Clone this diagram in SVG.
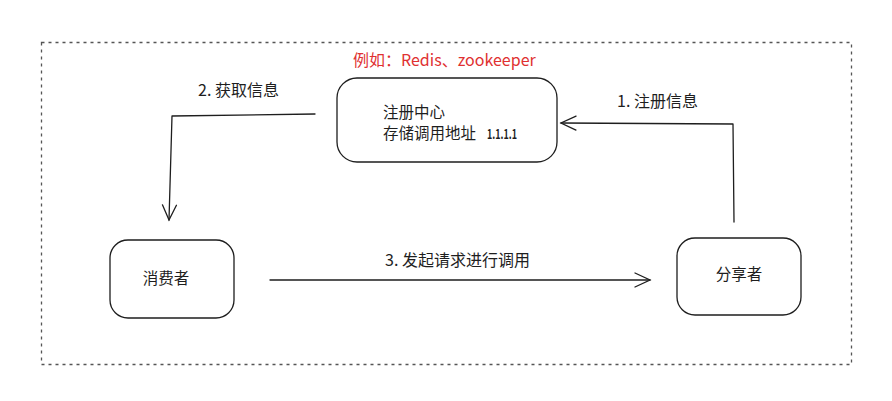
<svg xmlns="http://www.w3.org/2000/svg" width="892" height="401" viewBox="0 0 892 401">
<style>
.node{fill:none;stroke:#1e1e1e;stroke-width:1.3}
.t{font-family:"Noto Sans CJK SC","Noto Sans",sans-serif;font-size:15.5px;fill:#1e1e1e}
.l{font-family:"Noto Sans CJK SC","Noto Sans",sans-serif;font-size:16px;fill:#1e1e1e}
.c{fill:none;stroke:#1e1e1e;stroke-width:1.3;stroke-linecap:round;stroke-linejoin:round}
</style>
<defs>
<marker id="arr" markerWidth="20" markerHeight="20" refX="17" refY="10" orient="auto" markerUnits="userSpaceOnUse">
<path d="M2,3 L17,10 L2,17" fill="none" stroke="#1e1e1e" stroke-width="1.3" stroke-linecap="round"/>
</marker>
</defs>
<rect width="892" height="401" fill="#fff"/>
<rect id="frame" x="41.5" y="42.5" width="810" height="322" fill="none" stroke="#555" stroke-width="1.3" stroke-dasharray="3 4"/>
<g id="note"><text x="353" y="66" font-family="'Comic Sans MS','Noto Sans CJK SC',cursive" font-size="16" fill="#e03131">例如：Redis、zookeeper</text></g>
<g id="registry">
<rect class="node" x="337" y="78" width="220" height="84" rx="20"/>
<text class="t" x="383" y="118">注册中心</text>
<text class="t" x="383" y="139">存储调用地址<tspan x="487" font-size="13" font-weight="bold" textLength="30" lengthAdjust="spacingAndGlyphs">1.1.1.1</tspan></text>
</g>
<g id="consumer">
<rect class="node" x="110" y="240" width="124" height="78" rx="18"/>
<text class="t" x="166" y="284" text-anchor="middle">消费者</text>
</g>
<g id="sharer">
<rect class="node" x="677" y="238" width="124" height="77" rx="18"/>
<text class="t" x="739" y="280" text-anchor="middle">分享者</text>
</g>
<g id="connectors">
<path class="c" d="M315,114 L172,116 L169,220" marker-end="url(#arr)"/>
<path class="c" d="M734,222 L733,124 L561,123" marker-end="url(#arr)"/>
<path class="c" d="M270,280 L650,280" marker-end="url(#arr)"/>
<text class="l" x="198" y="96">2. 获取信息</text>
<text class="l" x="617" y="107">1. 注册信息</text>
<text class="l" x="385" y="266">3. 发起请求进行调用</text>
</g>
</svg>
